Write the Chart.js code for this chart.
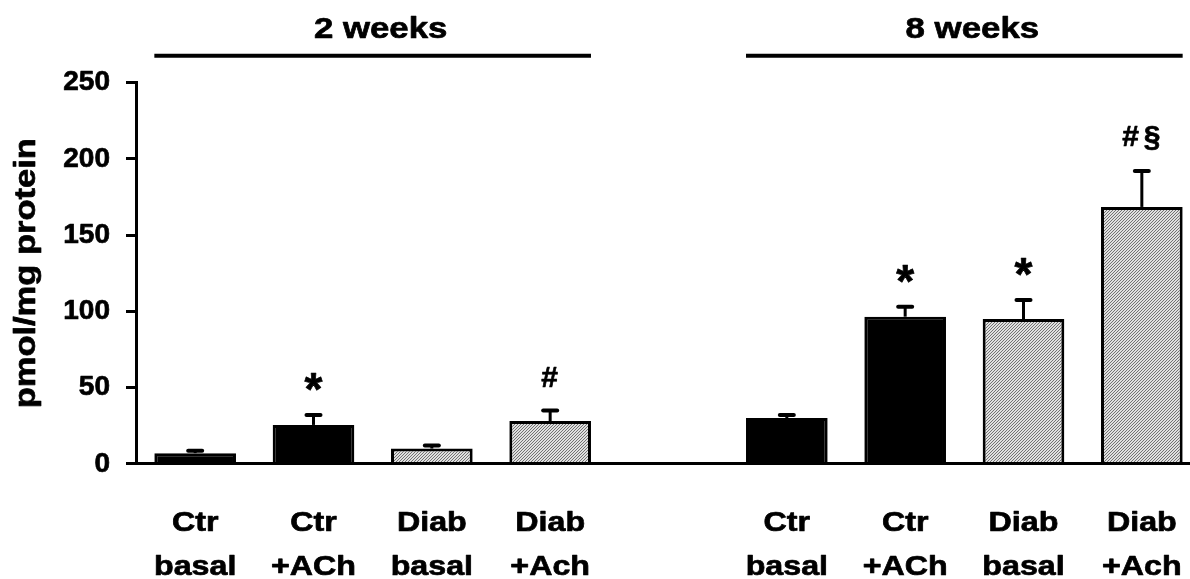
<!DOCTYPE html>
<html>
<head>
<meta charset="utf-8">
<script src="https://cdn.jsdelivr.net/npm/chart.js@4.4.1/dist/chart.umd.min.js"></script>
<style>
  html, body { margin: 0; padding: 0; background: #fff; overflow: hidden; }
  canvas { display: block; }
</style>
</head>
<body>
<canvas id="chart" width="1201" height="579"></canvas>
<script>
// ---- data ----
const groupTitles = ['2 weeks', '8 weeks'];
const groupLabels = [['Ctr', 'basal'], ['Ctr', '+ACh'], ['Diab', 'basal'], ['Diab', '+Ach']];
const diabetic = [false, false, true, true];

const values2w = [7, 25.5, 10, 28];
const errors2w = [1.5, 6.5, 2, 7];
const marks2w  = ['', '*', '', '#'];

const values8w = [30, 96.5, 95, 168.5];
const errors8w = [2, 6.5, 12.5, 23.5];
const marks8w  = ['', '*', '*', '#§'];

const yTicks = [0, 50, 100, 150, 200, 250];

// one empty slot separates the two time points
const labels = [...groupLabels, '', ...groupLabels];
const values = [...values2w, null, ...values8w];
const errors = [...errors2w, null, ...errors8w];
const marks  = [...marks2w, '', ...marks8w];
const kinds  = [...diabetic, false, ...diabetic];

const FONT = "'Liberation Sans', Arial, Helvetica, sans-serif";
Chart.defaults.font.family = FONT;
Chart.defaults.color = '#000';

const canvas = document.getElementById('chart');
const ctx = canvas.getContext('2d');

// heavier, slightly wide lettering: words are widened, numbers keep their width
const plainFill = ctx.fillText;
ctx.fillText = function (text, x, y) {
  const s = this.textStretch != null ? this.textStretch
          : (/^[\d.]+$/.test(String(text)) ? 1 : 1.15);
  this.save();
  this.translate(x, y);
  this.scale(s, 1);
  this.lineWidth = 0.7;
  this.lineJoin = 'round';
  this.strokeStyle = this.fillStyle;
  this.strokeText(text, 0, 0);
  plainFill.call(this, text, 0, 0);
  this.restore();
};

// fine diagonal hatching for the diabetic bars
function hatchPattern() {
  const c = document.createElement('canvas');
  c.width = 3; c.height = 3;
  const g = c.getContext('2d');
  g.fillStyle = '#e0e0e0';
  g.fillRect(0, 0, 3, 3);
  g.fillStyle = '#727272';
  for (let i = 0; i < 3; i++) g.fillRect(i, 2 - i, 1, 1);
  return g.createPattern(c, 'repeat');
}
const hatch = hatchPattern();
const fills = kinds.map(d => d ? hatch : '#000');

// error bars, significance marks and group headers
const overlay = {
  id: 'overlay',
  afterDatasetsDraw(chart) {
    const { ctx, scales: { y } } = chart;
    const meta = chart.getDatasetMeta(0);
    ctx.save();
    ctx.strokeStyle = '#000';
    ctx.fillStyle = '#000';
    meta.data.forEach((bar, i) => {
      const v = values[i];
      if (v == null) return;
      const top = y.getPixelForValue(v);
      const capY = y.getPixelForValue(v + errors[i]);
      ctx.lineCap = 'butt';
      ctx.lineWidth = 3;
      ctx.beginPath();
      ctx.moveTo(bar.x, top);
      ctx.lineTo(bar.x, capY);
      ctx.stroke();
      ctx.lineCap = 'round';
      ctx.lineWidth = 4;
      ctx.beginPath();
      ctx.moveTo(bar.x - 7, capY);
      ctx.lineTo(bar.x + 7, capY);
      ctx.stroke();

      const m = marks[i];
      if (m) {
        const star = m === '*';
        ctx.font = `bold ${star ? 46 : 30}px ${FONT}`;
        ctx.letterSpacing = star ? '0px' : '5px';
        ctx.textAlign = 'center';
        ctx.textBaseline = 'alphabetic';
        const tm = ctx.measureText(m);
        const cy = capY - 33;
        const base = cy + (tm.actualBoundingBoxAscent - tm.actualBoundingBoxDescent) / 2;
        ctx.textStretch = 1;
        ctx.fillText(m, bar.x + (star ? 0 : 2), base);
        ctx.textStretch = null;
        ctx.letterSpacing = '0px';
      }
    });
    ctx.restore();
  },
  afterDraw(chart) {
    const { ctx, chartArea } = chart;
    const meta = chart.getDatasetMeta(0);
    ctx.save();
    ctx.fillStyle = '#000';
    ctx.strokeStyle = '#000';
    groupTitles.forEach((t, g) => {
      const first = meta.data[g * 5];
      const last = meta.data[g * 5 + 3];
      const x0 = first.x - first.width / 2;
      const x1 = last.x + last.width / 2;
      ctx.lineWidth = 4;
      ctx.lineCap = 'butt';
      ctx.beginPath();
      ctx.moveTo(x0, chartArea.top - 27);
      ctx.lineTo(x1, chartArea.top - 27);
      ctx.stroke();
      ctx.font = `bold 30px ${FONT}`;
      ctx.textAlign = 'center';
      ctx.textBaseline = 'alphabetic';
      ctx.textStretch = 1.16;
      ctx.fillText(t, (x0 + x1) / 2 + 8, chartArea.top - 45);
      ctx.textStretch = null;
    });
    ctx.restore();
  }
};

new Chart(ctx, {
  type: 'bar',
  data: {
    labels,
    datasets: [{
      data: values,
      backgroundColor: fills,
      borderColor: '#000',
      borderWidth: 3,
      barPercentage: 0.69,
      categoryPercentage: 1
    }]
  },
  options: {
    responsive: false,
    animation: false,
    devicePixelRatio: 1,
    layout: { padding: { top: 82.7, right: 0, bottom: 0, left: 0 } },
    plugins: { legend: { display: false }, tooltip: { enabled: false } },
    scales: {
      x: {
        offset: true,
        // invisible tick marks keep the two-line labels well below the axis
        grid: { display: false, drawTicks: true, tickLength: 37 },
        border: { display: true, color: '#000', width: 3, z: 1 },
        ticks: {
          font: { size: 28, weight: 'bold', lineHeight: 1.571 },
          color: '#000',
          padding: 0,
          maxRotation: 0,
          autoSkip: false
        },
        afterFit(s) { s.height = 115.2; }
      },
      y: {
        min: 0,
        max: 250,
        afterBuildTicks(s) { s.ticks = yTicks.map(v => ({ value: v })); },
        grid: { drawOnChartArea: false, drawTicks: true, tickLength: 10, tickWidth: 3, tickColor: '#000' },
        border: { color: '#000', width: 3, z: 1 },
        ticks: { font: { size: 28, weight: 'bold' }, color: '#000', padding: 16 },
        title: {
          display: true,
          text: 'pmol/mg protein',
          font: { size: 30, weight: 'bold' },
          color: '#000',
          padding: { top: 9, bottom: 0 }
        },
        afterFit(s) { s.width = 136; }
      }
    }
  },
  plugins: [overlay]
});
</script>
</body>
</html>
